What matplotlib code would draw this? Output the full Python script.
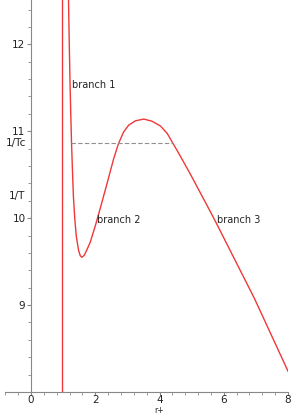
import matplotlib
matplotlib.use("Agg")
import matplotlib.pyplot as plt
from matplotlib.ticker import MultipleLocator

# Data
r_vals = [1.165, 1.19, 1.215, 1.24, 1.26, 1.29, 1.32, 1.365, 1.41, 1.48, 1.53, 1.58,
          1.65, 1.72, 1.84, 2.0, 2.16, 2.36, 2.57, 2.72, 2.88, 3.04, 3.25, 3.51,
          3.77, 4.03, 4.24, 4.42, 4.60, 4.79, 4.97, 5.28, 5.59, 5.80, 6.95, 8.0]
invT_vals = [12.55, 12.02, 11.55, 11.16, 10.88, 10.55, 10.245, 9.98, 9.79, 9.63, 9.57, 9.55,
             9.57, 9.62, 9.72, 9.91, 10.12, 10.39, 10.68, 10.855, 10.99, 11.07, 11.12, 11.14,
             11.115, 11.06, 10.975, 10.86, 10.745, 10.62, 10.50, 10.285, 10.07, 9.92, 9.08, 8.24]
asymptote_r = 0.98
inv_Tc = 10.86
tc_r_range = [1.26, 4.42]
branch_labels = ["branch 1", "branch 2", "branch 3"]
branch_pos = [(1.27, 11.53), (2.05, 9.98), (5.8, 9.98)]
x_ticks = [0, 2, 4, 6, 8]
y_ticks = [9, 10, 11, 12]

fig = plt.figure(figsize=(2.91, 4.15), dpi=100)
ax = fig.add_axes([5/291, 23/415, 283/291, 392/415])
ax.set_xlim(-0.81, 8.0)
ax.set_ylim(8.0, 12.51)

red = "#f03838"
ax.plot(r_vals, invT_vals, color=red, lw=1.0, clip_on=True, solid_joinstyle="round")
ax.axvline(asymptote_r, color=red, lw=1.0)
ax.plot(tc_r_range, [inv_Tc, inv_Tc], color="#909090", lw=0.8, ls=(0, (4, 2)))

for lab, (x, y) in zip(branch_labels, branch_pos):
    ax.text(x, y, lab, fontsize=7, color="#222222", ha="left", va="center")

axcol = "#888888"
for s in ["top", "right"]:
    ax.spines[s].set_visible(False)
ax.spines["left"].set_position(("data", 0))
ax.spines["left"].set_color(axcol)
ax.spines["bottom"].set_color(axcol)

ax.set_xticks(x_ticks)
ax.set_yticks(y_ticks)
ax.xaxis.set_minor_locator(MultipleLocator(0.4))
ax.yaxis.set_minor_locator(MultipleLocator(0.2))
ax.tick_params(axis="y", which="major", length=3, width=0.8, color=axcol,
               labelsize=7.5, labelcolor="#222222", pad=1.0)
ax.tick_params(axis="x", which="major", length=2, width=0.8, color=axcol,
               labelsize=7.5, labelcolor="#222222", pad=0.5)
ax.tick_params(axis="both", which="minor", length=2, width=0.6, color=axcol)

ax.text(-0.8, inv_Tc, "1/Tc", fontsize=7.5, color="#222222", ha="left", va="center")
ax.text(-0.68, 10.25, "1/T", fontsize=7.5, color="#222222", ha="left", va="center")
fig.text(159/291, 0.5/415, "r+", fontsize=5.5, color="#222222", ha="center", va="bottom")

fig.savefig("out.png", dpi=100)
